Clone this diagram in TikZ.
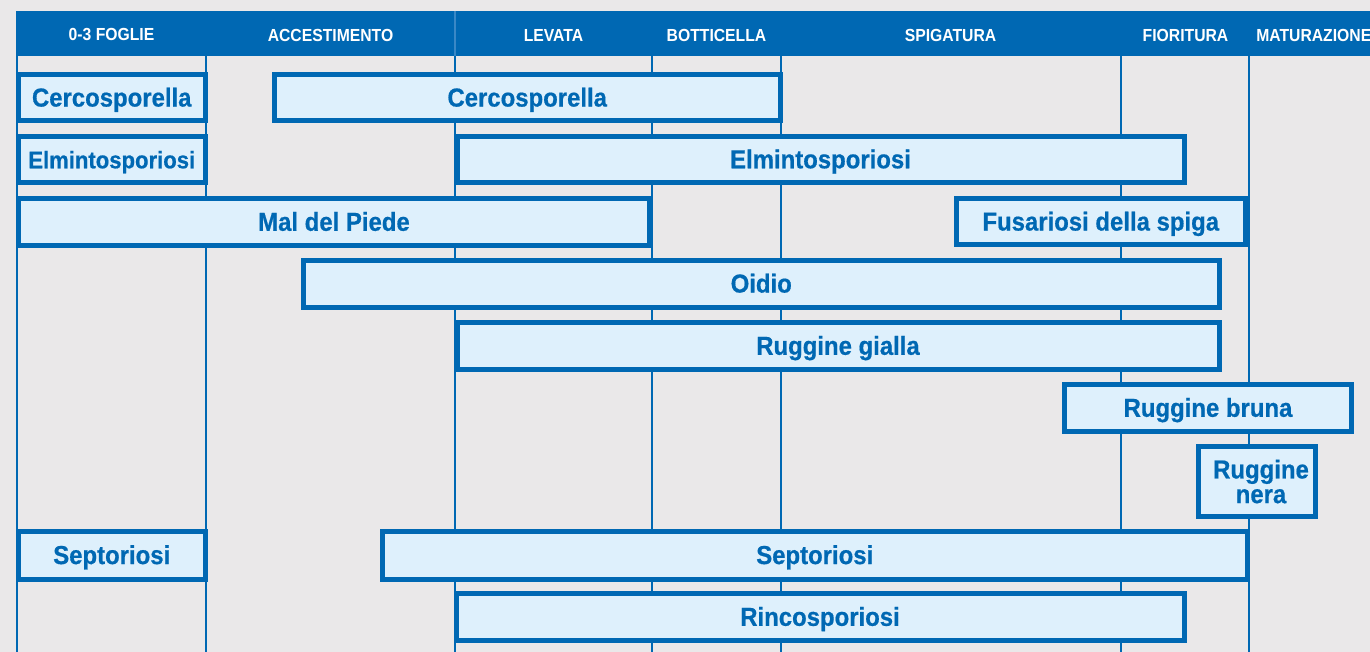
\documentclass[tikz,border=0pt]{standalone}
\usepackage{fontspec}
\newfontfamily\lab[FakeStretch=0.92,FakeBold=0.6]{Liberation Sans}
\newfontfamily\hdr[FakeStretch=0.9]{Liberation Sans}
\definecolor{bgc}{HTML}{EAE8E9}
\definecolor{blu}{HTML}{0068B3}
\definecolor{fillc}{HTML}{DEF0FC}
\definecolor{sepc}{HTML}{3A88C6}
\newcommand{\dzbox}[7][]{%
  \pgfmathsetmacro\bw{(#5-#3-5)*0.75}%
  \pgfmathsetmacro\bh{(#6-#4-5)*0.75}%
  \node[dis, minimum width=\bw pt, minimum height=\bh pt, #1] (#2) at ({(#3+#5)/2},{(#4+#6)/2}) {#7};}
\begin{document}
\begin{tikzpicture}[x=0.75pt,y=-0.75pt,
  dis/.style={draw=blu, fill=fillc, line width=3.75pt, inner sep=0pt, outer sep=0pt,
    text=blu, font=\lab\bfseries\fontsize{19.5pt}{19pt}\selectfont, align=center,
    text height=13.2pt, text depth=0pt},
  hlab/.style={text=white, inner sep=0pt, font=\hdr\bfseries\fontsize{13.1pt}{14pt}\selectfont},
  vline/.style={draw=blu, line width=1.9pt}]
\fill[bgc] (0,0) rectangle (1370,652);
\useasboundingbox (0,0) rectangle (1370,652);
% header
\fill[blu] (16,11) rectangle (1370,56);
\draw[sepc, line width=0.8pt] (455,11) -- (455,56);
\node[hlab] (h1) at (111.5,35) {0-3 FOGLIE};
\node[hlab] (h2) at (330.5,35) {ACCESTIMENTO};
\node[hlab] (h3) at (553.5,35) {LEVATA};
\node[hlab] (h4) at (716.5,35) {BOTTICELLA};
\node[hlab] (h5) at (950.5,35) {SPIGATURA};
\node[hlab] (h6) at (1185.5,35) {FIORITURA};
\node[hlab, anchor=west] (h7) at (1256,35) {MATURAZIONE};
% grid lines
\foreach \xx in {17,206,455,652,781,1121,1249}
  \draw[vline] (\xx,56) -- (\xx,652);
% boxes
\dzbox{c1}{16}{72}{207.5}{123.5}{Cercosporella}
\dzbox{c2}{272}{72}{782.5}{123.5}{Cercosporella}
\dzbox{e1}{16}{134}{207.5}{185}{\fontsize{18pt}{18pt}\selectfont Elmintosporiosi}
\dzbox{e2}{454.5}{134}{1186.5}{185}{Elmintosporiosi}
\dzbox{m}{16}{196}{652}{248}{Mal del Piede}
\dzbox{f}{953.5}{196}{1248}{247.5}{Fusariosi della spiga}
\dzbox{o}{301}{258}{1221.5}{309.5}{Oidio}
\dzbox{rg}{454.5}{320}{1221.5}{372}{Ruggine gialla}
\dzbox{rb}{1062}{382}{1354}{434}{Ruggine bruna}
\dzbox[text height=, text depth=]{rn}{1196}{444}{1318}{519}{\hspace*{6pt}Ruggine\\[-0.5pt]\hspace*{6pt}nera}
\dzbox{s1}{16}{529}{207.5}{581.5}{Septoriosi}
\dzbox{s2}{380}{529}{1249.5}{581.5}{Septoriosi}
\dzbox{r}{453.5}{591}{1186.5}{643}{Rincosporiosi}
\end{tikzpicture}
\end{document}
